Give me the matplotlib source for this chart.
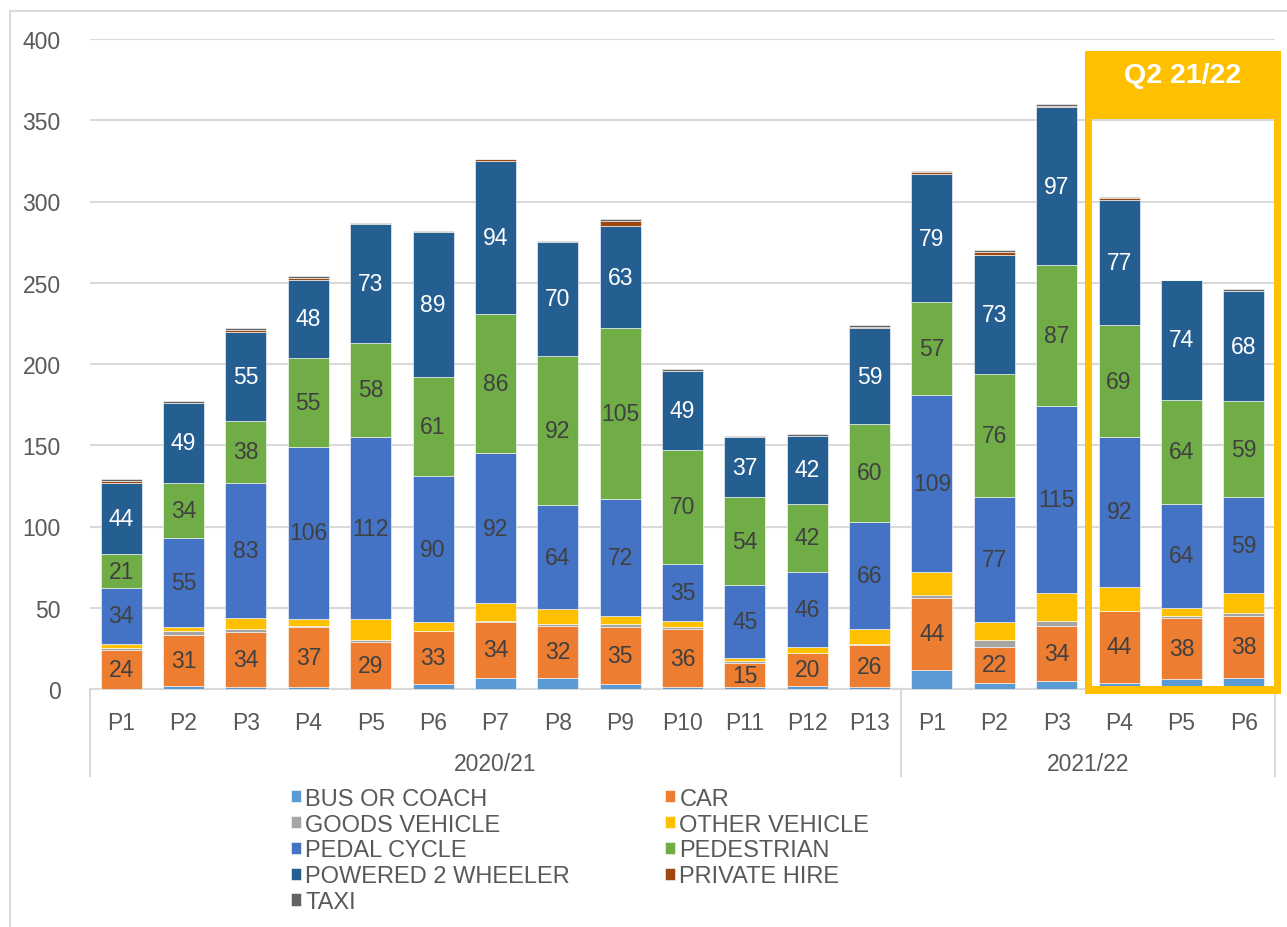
import matplotlib
matplotlib.use("Agg")
import matplotlib.pyplot as plt
from matplotlib.patches import Rectangle
from matplotlib.lines import Line2D
from matplotlib import font_manager
import numpy as np

# ---- data -------------------------------------------------------------
periods = ["P1", "P2", "P3", "P4", "P5", "P6", "P7", "P8", "P9", "P10",
           "P11", "P12", "P13", "P1", "P2", "P3", "P4", "P5", "P6"]
years = ["2020/21", "2021/22"]
year_sizes = [13, 6]

series_names = ["BUS OR COACH", "CAR", "GOODS VEHICLE", "OTHER VEHICLE",
                "PEDAL CYCLE", "PEDESTRIAN", "POWERED 2 WHEELER",
                "PRIVATE HIRE", "TAXI"]

bus_or_coach = [0, 2, 1, 1, 0, 3, 7, 7, 3, 1, 1, 2, 1, 12, 4, 5, 4, 6, 7]
car = [24, 31, 34, 37, 29, 33, 34, 32, 35, 36, 15, 20, 26, 44, 22, 34, 44, 38, 38]
goods_vehicle = [1, 3, 2, 1, 1, 0, 1, 1, 2, 1, 1, 0, 1, 2, 4, 3, 0, 1, 2]
other_vehicle = [3, 2, 7, 4, 13, 5, 11, 9, 5, 4, 2, 4, 9, 14, 11, 17, 15, 5, 12]
pedal_cycle = [34, 55, 83, 106, 112, 90, 92, 64, 72, 35, 45, 46, 66, 109, 77, 115, 92, 64, 59]
pedestrian = [21, 34, 38, 55, 58, 61, 86, 92, 105, 70, 54, 42, 60, 57, 76, 87, 69, 64, 59]
powered_2_wheeler = [44, 49, 55, 48, 73, 89, 94, 70, 63, 49, 37, 42, 59, 79, 73, 97, 77, 74, 68]
private_hire = [1, 0, 1, 1, 0, 0, 1, 0, 3, 0, 0, 0, 1, 1, 2, 1, 1, 0, 0]
taxi = [1, 1, 1, 1, 1, 1, 0, 1, 1, 1, 1, 1, 1, 1, 1, 1, 1, 0, 1]

highlight_title = "Q2 21/22"
highlight_range = (16, 18)   # P4..P6 of 2021/22

series = [bus_or_coach, car, goods_vehicle, other_vehicle, pedal_cycle,
          pedestrian, powered_2_wheeler, private_hire, taxi]
colors = ["#5B9BD5", "#ED7D31", "#A5A5A5", "#FFC000", "#4472C4",
          "#70AD47", "#255E91", "#9E480E", "#636363"]
labelled = {1: "#404040", 4: "#404040", 5: "#404040", 6: "white"}

# ---- fonts ------------------------------------------------------------
available = {f.name for f in font_manager.fontManager.ttflist}
base_font = "Liberation Sans" if "Liberation Sans" in available else "DejaVu Sans"
plt.rcParams["font.family"] = [base_font, "DejaVu Sans"]

TEXT = "#595959"
GRID = "#D9D9D9"
FS = 16.5

# ---- figure -----------------------------------------------------------
W, H = 1287, 928
fig = plt.figure(figsize=(W / 100, H / 100), dpi=100)
ax = fig.add_axes([90 / W, 1 - 690 / H, (1275 - 90) / W, 650 / H])

x = np.arange(len(periods))
bottom = np.zeros(len(periods))
bars = []
for i, (vals, col) in enumerate(zip(series, colors)):
    vals = np.array(vals, dtype=float)
    b = ax.bar(x, vals, 0.657, bottom=bottom, color=col, edgecolor="white",
               linewidth=0.4, zorder=3, label=series_names[i])
    bars.append(b)
    if i in labelled:
        for xi, v, b0 in zip(x, vals, bottom):
            if v > 0:
                ax.text(xi, b0 + v / 2, f"{int(v)}", ha="center", va="center",
                        fontsize=FS, color=labelled[i], zorder=4)
    bottom += vals

ax.set_xlim(-0.5, len(periods) - 0.5)
ax.set_ylim(0, 400)
ax.set_yticks(np.arange(0, 401, 50))
ax.yaxis.grid(True, color=GRID, linewidth=1.5, zorder=0)
ax.tick_params(axis="y", length=0, pad=21, labelsize=FS, labelcolor=TEXT)
for s in ["left", "right", "top"]:
    ax.spines[s].set_visible(False)
ax.spines["bottom"].set_color(GRID)
ax.spines["bottom"].set_linewidth(1.5)
ax.spines["bottom"].set_zorder(2)

# first-level category labels
ax.set_xticks(x)
ax.set_xticklabels(periods)
ax.tick_params(axis="x", length=0, pad=16, labelsize=FS, labelcolor=TEXT)

# second-level (year) labels and separators
trans = ax.get_xaxis_transform()
sep_drop = (777 - 690) / 650
edges = np.concatenate([[0], np.cumsum(year_sizes)]) - 0.5
for e in edges:
    ax.add_line(Line2D([e, e], [0, -sep_drop], transform=trans, color=GRID,
                       linewidth=1.5, clip_on=False))
for yr, lo, hi in zip(years, edges[:-1], edges[1:]):
    ax.text((lo + hi) / 2, -(765 - 690) / 650, yr, transform=trans,
            ha="center", va="center", fontsize=FS, color=TEXT)

# highlight frame around the current quarter
px_x = (1275 - 90) / len(periods)   # pixels per category
px_y = 650 / 400                    # pixels per unit
lo_i, hi_i = highlight_range
left = lo_i - 0.5 - 3 / px_x
right = hi_i + 0.5 + 6 / px_x
top = (690 - 52) / px_y
bot = (690 - 695) / px_y
head_bot = (690 - 120) / px_y
tw = 7.5 / px_x
th = 8 / px_y
gold = "#FFC000"
for (rx, ry, rw, rh) in [(left, bot, tw, top - bot),
                         (right - tw, bot, tw, top - bot),
                         (left, bot, right - left, th),
                         (left, head_bot, right - left, top - head_bot)]:
    ax.add_patch(Rectangle((rx, ry), rw, rh, facecolor=gold, edgecolor="none",
                           zorder=6, clip_on=False))
ax.text((left + right) / 2, (690 - 76) / px_y, highlight_title, ha="center",
        va="center", fontsize=20.5, fontweight="bold", color="white", zorder=7)

# legend (row-major order in two columns)
order = [0, 2, 4, 6, 8, 1, 3, 5, 7]
handles = [bars[i] for i in order]
labels = [series_names[i] for i in order]
leg = fig.legend(handles, labels, ncol=2, loc="upper left",
                 bbox_to_anchor=(279 / W, 1 - 777 / H), frameon=False,
                 prop={"size": 17},
                 handlelength=0.42, handleheight=0.42, handletextpad=0.2,
                 labelspacing=0.16, columnspacing=4.0, borderpad=0)
for t in leg.get_texts():
    t.set_color(TEXT)

# outer frame lines
fig.add_artist(Line2D([10 / W, 10 / W], [0, 1 - 12 / H], transform=fig.transFigure,
                      color=GRID, linewidth=1.5))
fig.add_artist(Line2D([10 / W, 1], [1 - 12 / H, 1 - 12 / H], transform=fig.transFigure,
                      color=GRID, linewidth=1.5))

fig.savefig("out.png", dpi=100, facecolor="white")
